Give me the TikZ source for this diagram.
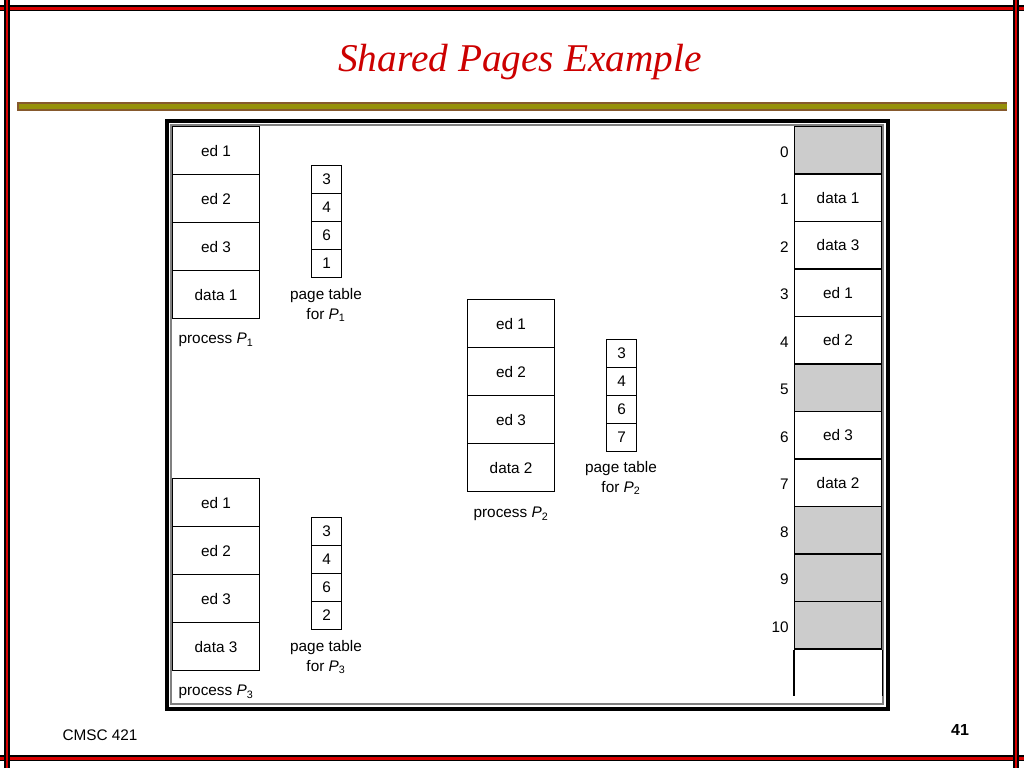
\documentclass[tikz,border=0pt]{standalone}
\usepackage{fontspec}
\setmainfont{Liberation Sans}
\newfontfamily\titlefont{Liberation Serif}
\colorlet{memgray}{black!20}
\definecolor{barolive}{RGB}{150,145,10}
\newcommand{\subx}[1]{\textsubscript{#1}}
\begin{document}
\begin{tikzpicture}[x=0.75pt,y=-0.75pt,
  cell/.style={draw,line width=0.8pt,minimum width=65.25pt,minimum height=36pt,inner sep=0pt,anchor=north west,font=\fontsize{11.5}{12}\selectfont},
  pcell/.style={draw,line width=0.8pt,minimum width=22.5pt,minimum height=21pt,inner sep=0pt,anchor=north west,font=\fontsize{11.5}{12}\selectfont},
  lbl/.style={font=\fontsize{11.5}{15}\selectfont,align=center,inner sep=0pt},
  num/.style={font=\fontsize{11.5}{12}\selectfont,anchor=east,inner sep=0pt}]
\useasboundingbox (0,0) rectangle (1024,768);
% slide borders
\foreach \y in {8,758}{\fill[black] (0,\y-3) rectangle (1024,\y+3);\fill[red!85!black] (0,\y-1.5) rectangle (1024,\y+1.5);}
\foreach \x in {7,1016}{\fill[black] (\x-3,0) rectangle (\x+3,768);\fill[red!85!black] (\x-1.2,0) rectangle (\x+1.2,768);}
\fill[brown!70!black] (17,102) rectangle (1007,111);
\fill[barolive] (19,104) rectangle (1007,109);
\node[font=\titlefont\itshape\fontsize{29.5}{34}\selectfont,text=red!80!black] (title) at (520,62) {Shared Pages Example};
\node[font=\fontsize{11.5}{12}\selectfont] (cmsc) at (100,735) {CMSC 421};
\node[font=\bfseries\fontsize{12}{13}\selectfont] (pg) at (960,730) {41};
% frame
\draw[line width=3pt] (167,121) rectangle (888,709);
\draw[line width=0.8pt,gray] (171,125) rectangle (883,704);
% process P1
\foreach \t [count=\i from 0] in {ed 1,ed 2,ed 3,data 1}
  \node[cell] (pa\i) at (172,126+48*\i) {\t};
\node[lbl] (pal) at (216,340) {process \textit{P}\subx{1}};
\foreach \t [count=\i from 0] in {3,4,6,1}
  \node[pcell] (ta\i) at (311,165+28*\i) {\t};
\node[lbl,anchor=north] (tal) at (326,288) {page table\\for \textit{P}\subx{1}};
% process P2
\foreach \t [count=\i from 0] in {ed 1,ed 2,ed 3,data 2}
  \node[cell] (pb\i) at (467,299+48*\i) {\t};
\node[lbl] (pbl) at (511,514) {process \textit{P}\subx{2}};
\foreach \t [count=\i from 0] in {3,4,6,7}
  \node[pcell] (tb\i) at (606,339+28*\i) {\t};
\node[lbl,anchor=north] (tbl) at (621,461) {page table\\for \textit{P}\subx{2}};
% process P3
\foreach \t [count=\i from 0] in {ed 1,ed 2,ed 3,data 3}
  \node[cell] (pc\i) at (172,478+48*\i) {\t};
\node[lbl] (pcl) at (216,692) {process \textit{P}\subx{3}};
\foreach \t [count=\i from 0] in {3,4,6,2}
  \node[pcell] (tc\i) at (311,517+28*\i) {\t};
\node[lbl,anchor=north] (tcl) at (326,640) {page table\\for \textit{P}\subx{3}};
% memory
\foreach \f/\t [count=\i from 0] in {memgray/{},white/data 1,white/data 3,white/ed 1,white/ed 2,memgray/{},white/ed 3,white/data 2,memgray/{},memgray/{},memgray/{}}{
  \node[cell,minimum height=35.6pt,fill=\f] (m\i) at (794,126+47.5*\i) {\t};
  \node[num] (n\i) at (789,152+47.5*\i) {\i};}
\coordinate (e1) at (794,696);
\coordinate (e2) at (m10.south east |- e1);
\draw[line width=0.8pt] (m10.south west) -- (e1);
\draw[line width=0.8pt] (m10.south east) -- (e2);
\end{tikzpicture}
\end{document}
